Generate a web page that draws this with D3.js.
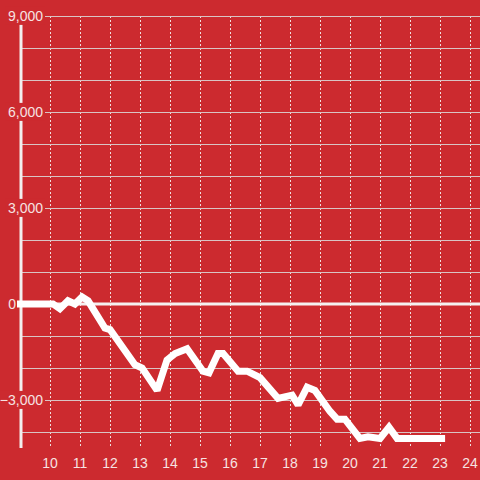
<!DOCTYPE html>
<html><head><meta charset="utf-8">
<script src="https://cdn.jsdelivr.net/npm/d3@7"></script>
<style>html,body{margin:0;padding:0;background:#cc2a2f;}svg{display:block;font-family:"Liberation Sans",Arial,sans-serif;}</style>
</head><body><svg id="c" width="480" height="480"></svg>
<script>
const hours = [8.9,10.1,10.33,10.6,10.83,11.07,11.27,11.83,12.0,12.83,13.07,13.57,13.9,14.17,14.57,15.1,15.3,15.6,15.77,16.27,16.57,17.0,17.6,18.07,18.27,18.57,18.83,19.33,19.57,19.83,20.33,20.6,21.0,21.3,21.57,23.17];
const values = [0,0,-150,100,0,220,100,-750,-800,-1900,-2000,-2700,-1750,-1550,-1400,-2100,-2150,-1550,-1550,-2100,-2100,-2300,-2950,-2850,-3150,-2600,-2700,-3350,-3600,-3600,-4200,-4150,-4200,-3850,-4200,-4200];
const xTicks = [10,11,12,13,14,15,16,17,18,19,20,21,22,23,24];
const yGrid = [-4000,-3000,-2000,-1000,1000,2000,3000,4000,5000,6000,7000,8000,9000];
const yLabels = [-3000,3000,6000,9000];
const zeroLabel = [0];

const svg = d3.select("#c");
const W = 480, H = 480;
const x = d3.scaleLinear().domain([10,24]).range([50,470]);
const y = d3.scaleLinear().domain([-4500,9000]).range([448,16]);
const bg = "#cc2a2f";
const txt = "#f6e2e2";

svg.append("rect").attr("width",W).attr("height",H).attr("fill",bg);

// vertical dashed grid
svg.append("g").selectAll("line").data(xTicks).join("line")
  .attr("x1",d=>x(d)+0.5).attr("x2",d=>x(d)+0.5)
  .attr("y1",y(9000)).attr("y2",y(-4500))
  .attr("stroke","#f0dede").attr("stroke-width",1).attr("stroke-dasharray","2,2");

// horizontal grid
svg.append("g").selectAll("line").data(yGrid).join("line")
  .attr("x1",22).attr("x2",W)
  .attr("y1",d=>Math.round(y(d))+0.5).attr("y2",d=>Math.round(y(d))+0.5)
  .attr("stroke","#d9c4c4").attr("stroke-width",1);

// y axis line
svg.append("line").attr("x1",21).attr("x2",21).attr("y1",24).attr("y2",448)
  .attr("stroke","#f3eeee").attr("stroke-width",3);

// y labels with background
const lg = svg.append("g").selectAll("g").data(yLabels).join("g");
lg.append("text")
  .attr("x",43).attr("y",d=>y(d)).attr("dy","0.35em")
  .attr("text-anchor","end").attr("font-size",14).attr("fill",txt)
  .text(d=>d3.format(",")(d));
lg.each(function(){
  const g = d3.select(this);
  const t = g.select("text");
  const b = t.node().getBBox();
  g.insert("rect","text").attr("x",b.x-2).attr("y",b.y-1).attr("width",45-(b.x-2)).attr("height",b.height+2).attr("fill",bg);
});
svg.append("g").selectAll("text").data(zeroLabel).join("text")
  .attr("x",16).attr("y",d=>y(d)).attr("dy","0.35em")
  .attr("text-anchor","end").attr("font-size",14).attr("fill",txt)
  .text(d=>d3.format(",")(d));

// x labels
svg.append("g").selectAll("text").data(xTicks).join("text")
  .attr("x",d=>x(d)).attr("y",468).attr("text-anchor","middle")
  .attr("font-size",14).attr("fill",txt).text(d=>d);

// zero line
svg.append("line").attr("x1",22).attr("x2",W).attr("y1",y(0)).attr("y2",y(0))
  .attr("stroke","#f5f0f0").attr("stroke-width",3);

// data line
const pts = hours.map((h,i)=>[h,values[i]]);
svg.append("path").datum(pts)
  .attr("d",d3.line().x(d=>x(d[0])).y(d=>y(d[1])))
  .attr("fill","none").attr("stroke","#ffffff").attr("stroke-width",7)
  .attr("stroke-linejoin","miter").attr("stroke-miterlimit",2).attr("stroke-linecap","butt");
</script></body></html>
